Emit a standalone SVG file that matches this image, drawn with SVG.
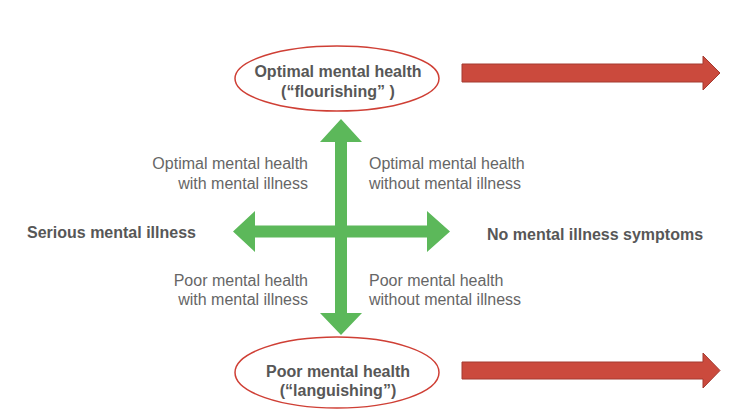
<svg xmlns="http://www.w3.org/2000/svg" width="736" height="412" viewBox="0 0 736 412">
<style>
.b{font-family:"Liberation Sans",Arial,sans-serif;font-size:16px;font-weight:bold;fill:#575757}
.r{font-family:"Liberation Sans",Arial,sans-serif;font-size:16px;fill:#666666}
.ell{fill:#ffffff;stroke:#cf3f35;stroke-width:1.5}
.red{fill:#cb4a3d;stroke:#a43a30;stroke-width:1}
.green{fill:#5cb85a}
</style>
<rect width="736" height="412" fill="#ffffff"/>
<g id="connectors">
<polygon class="green" points="341,119 362,142 347,142 347,225.5 427,225.5 427,211 450,231.5 427,252 427,237.5 347,237.5 347,313 362,313 341,335 320,313 335,313 335,237.5 255,237.5 255,252 233,231.5 255,211 255,225.5 335,225.5 335,142 320,142"/>
<polygon class="red" points="462,64 703,64 703,56 720,73 703,90 703,82 462,82"/>
<polygon class="red" points="462,362 703,362 703,353 720,370.5 703,388 703,379 462,379"/>
</g>
<g id="top">
<ellipse class="ell" cx="337" cy="78.5" rx="102" ry="32.5"/>
<text class="b" x="338" y="77" text-anchor="middle">Optimal mental health</text>
<text class="b" x="338" y="97" text-anchor="middle">(“flourishing” )</text>
</g>
<g id="bottom">
<ellipse class="ell" cx="337" cy="372.5" rx="102" ry="35.5"/>
<text class="b" x="338" y="377" text-anchor="middle">Poor mental health</text>
<text class="b" x="338" y="396" text-anchor="middle">(“languishing”)</text>
</g>
<g id="left">
<text class="b" x="27" y="238">Serious mental illness</text>
</g>
<g id="right">
<text class="b" x="487" y="240">No mental illness symptoms</text>
</g>
<g id="q1">
<text class="r" x="308" y="169" text-anchor="end">Optimal mental health</text>
<text class="r" x="308" y="189" text-anchor="end">with mental illness</text>
</g>
<g id="q2">
<text class="r" x="369" y="169">Optimal mental health</text>
<text class="r" x="369" y="189">without mental illness</text>
</g>
<g id="q3">
<text class="r" x="308" y="286" text-anchor="end">Poor mental health</text>
<text class="r" x="308" y="305" text-anchor="end">with mental illness</text>
</g>
<g id="q4">
<text class="r" x="369" y="286">Poor mental health</text>
<text class="r" x="369" y="305">without mental illness</text>
</g>
</svg>
